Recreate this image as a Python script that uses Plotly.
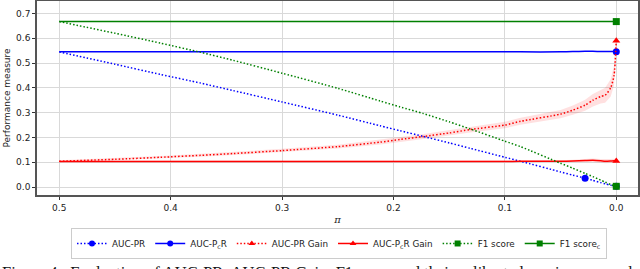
import plotly.graph_objects as go

# pi values (x axis, reversed)
pi = [0.5, 0.45, 0.409, 0.373, 0.344, 0.3, 0.25, 0.212, 0.194, 0.173, 0.15, 0.131,
      0.1, 0.086, 0.05, 0.039, 0.028, 0.021, 0.014, 0.01, 0.005, 0.002, 0.0]

auc_pr = [0.545, 0.495, 0.454, 0.419, 0.389, 0.343, 0.29, 0.247, 0.227, 0.204, 0.178, 0.156,
          0.12, 0.104, 0.061, 0.048, 0.036, 0.027, 0.018, 0.013, 0.007, 0.004, 0.003]
auc_pcr = [0.545, 0.545, 0.545, 0.545, 0.545, 0.545, 0.545, 0.545, 0.545, 0.545, 0.545, 0.545,
           0.545, 0.545, 0.545, 0.546, 0.547, 0.547, 0.546, 0.546, 0.546, 0.546, 0.545]
auc_pr_gain = [0.104, 0.112, 0.12, 0.128, 0.135, 0.147, 0.163, 0.181, 0.192, 0.204, 0.218, 0.232,
               0.25, 0.265, 0.294, 0.31, 0.33, 0.35, 0.365, 0.37, 0.40, 0.45, 0.59]
auc_pr_gain_sd = [0.004, 0.005, 0.005, 0.006, 0.006, 0.007, 0.008, 0.009, 0.01, 0.01, 0.011, 0.012,
                  0.013, 0.014, 0.017, 0.019, 0.022, 0.025, 0.028, 0.03, 0.035, 0.04, 0.04]
auc_pcr_gain = [0.103, 0.103, 0.103, 0.103, 0.103, 0.103, 0.103, 0.103, 0.103, 0.103, 0.103, 0.103,
                0.103, 0.104, 0.104, 0.105, 0.107, 0.108, 0.106, 0.104, 0.105, 0.106, 0.105]
auc_pcr_gain_sd = [0.003] * 12 + [0.003, 0.004, 0.004, 0.005, 0.006, 0.007, 0.007, 0.008, 0.008, 0.008, 0.008]
f1 = [0.667, 0.62, 0.58, 0.543, 0.511, 0.459, 0.398, 0.347, 0.323, 0.296, 0.263, 0.234,
      0.185, 0.163, 0.096, 0.076, 0.055, 0.042, 0.028, 0.02, 0.01, 0.005, 0.003]
f1_c = [0.667] * len(pi)

# marker positions (pi values where markers are drawn)
mk_auc_pr = [0.028, 0.0]
mk_end = [0.0]

BLUE = "#0000ff"
RED = "#ff0000"
GREEN = "#008000"
DOT = "1.5px,2px"


def pick(xs, ys, keep):
    return [x for x in xs if x in keep], [y for x, y in zip(xs, ys) if x in keep]


fig = go.Figure()

# shaded bands
for y, sd in [(auc_pr_gain, auc_pr_gain_sd), (auc_pcr_gain, auc_pcr_gain_sd)]:
    up = [a + b for a, b in zip(y, sd)]
    lo = [a - b for a, b in zip(y, sd)]
    fig.add_trace(go.Scatter(x=pi + pi[::-1], y=up + lo[::-1], fill="toself",
                             fillcolor="rgba(255,0,0,0.12)", line=dict(width=0),
                             showlegend=False, hoverinfo="skip"))

series = [
    ("AUC-PR", auc_pr, BLUE, DOT, "circle", mk_auc_pr),
    ("AUC-P<sub>c</sub>R", auc_pcr, BLUE, "solid", "circle", mk_end),
    ("AUC-PR Gain", auc_pr_gain, RED, DOT, "triangle-up", mk_end),
    ("AUC-P<sub>c</sub>R Gain", auc_pcr_gain, RED, "solid", "triangle-up", mk_end),
    ("F1 score", f1, GREEN, DOT, "square", mk_end),
    ("F1 score<sub>c</sub>", f1_c, GREEN, "solid", "square", mk_end),
]

for name, ys, col, dash, sym, keep in series:
    fig.add_trace(go.Scatter(x=pi, y=ys, mode="lines",
                             line=dict(color=col, width=1.5, dash=dash, shape="spline", smoothing=0.6),
                             showlegend=False, hoverinfo="skip"))
    mx, my = pick(pi, ys, keep)
    fig.add_trace(go.Scatter(x=mx, y=my, mode="markers",
                             marker=dict(symbol=sym, size=7, color=col), showlegend=False))
    # legend entry
    fig.add_trace(go.Scatter(x=[None], y=[None], mode="lines+markers", name=name,
                             line=dict(color=col, width=1.5, dash=dash),
                             marker=dict(symbol=sym, size=6, color=col)))

axis_common = dict(showline=True, linecolor="#555555", linewidth=1.5, mirror=True,
                   showgrid=True, gridcolor="#d9d9d9", gridwidth=1,
                   ticks="outside", ticklen=3, tickcolor="#333333",
                   tickfont=dict(family="DejaVu Sans", size=9, color="#222222"),
                   zeroline=False, automargin=False)

fig.update_layout(
    width=640, height=269,
    margin=dict(l=37, r=2, t=1, b=74, autoexpand=False),
    plot_bgcolor="white", paper_bgcolor="white",
    xaxis=dict(range=[0.52, -0.0195], tickvals=[0.5, 0.4, 0.3, 0.2, 0.1, 0.0],
               ticktext=["0.5", "0.4", "0.3", "0.2", "0.1", "0.0"],
               title=dict(text="<i>π</i>", font=dict(family="DejaVu Serif", size=10, color="#222"),
                          standoff=4),
               **axis_common),
    yaxis=dict(range=[-0.032, 0.75], tickvals=[0, 0.1, 0.2, 0.3, 0.4, 0.5, 0.6, 0.7],
               ticktext=["0.0", "0.1", "0.2", "0.3", "0.4", "0.5", "0.6", "0.7"],
               title=dict(text="Performance measure",
                          font=dict(family="DejaVu Sans", size=9, color="#222"), standoff=4),
               **axis_common),
    legend=dict(orientation="h", x=0.5025, xanchor="center", y=-0.17, yanchor="top",
                bordercolor="#cccccc", borderwidth=1, bgcolor="white",
                font=dict(family="DejaVu Sans", size=8.8, color="#222"),
                itemwidth=30, tracegroupgap=0),
    annotations=[dict(text="Figure 4:  Evaluation of AUC-PR, AUC-PR Gain, F1 score and their calibrated version as <i>π</i> = de",
                      xref="paper", yref="paper", x=-37 / 601, y=-0.34, xanchor="left", yanchor="top",
                      showarrow=False, font=dict(family="Liberation Serif", size=16.5, color="#111"))],
)

fig.write_html("out.html", config={"displayModeBar": False},
               post_script="document.body.style.margin='0';document.body.style.overflow='hidden';")
